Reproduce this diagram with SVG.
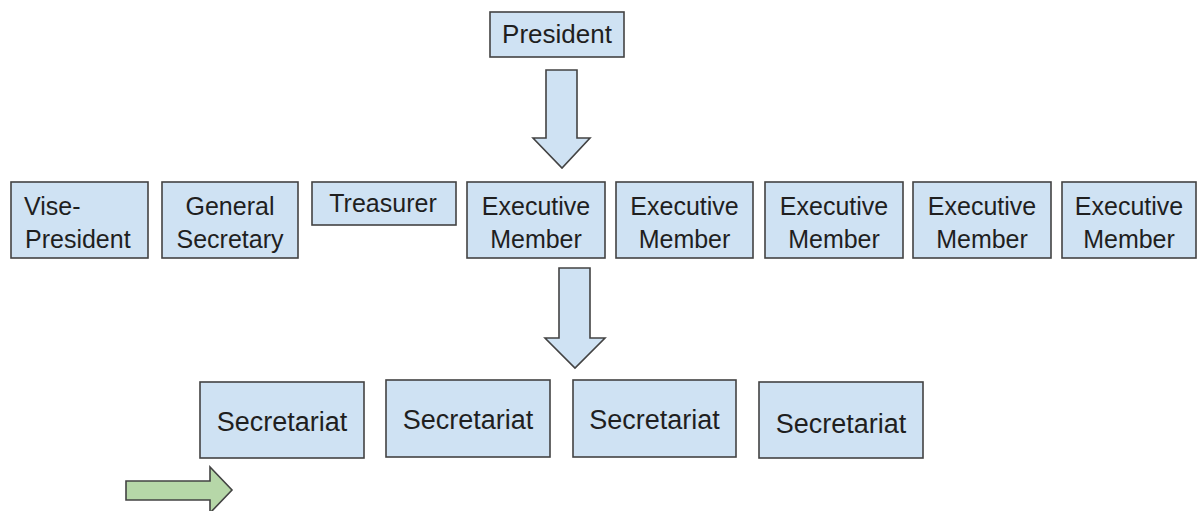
<svg xmlns="http://www.w3.org/2000/svg" width="1198" height="511" viewBox="0 0 1198 511">
  <style>
    .box { fill: #cfe2f3; stroke: #434343; stroke-width: 1.6; }
    .arrow { fill: #cfe2f3; stroke: #434343; stroke-width: 1.6; stroke-linejoin: miter; }
    .go { fill: #b6d7a8; stroke: #434343; stroke-width: 1.6; }
    text { font-family: "Liberation Sans", Arial, sans-serif; fill: #1f1f1f; }
    .c { text-anchor: middle; }
    .f25 { font-size: 25px; }
    .f26 { font-size: 26px; }
    .f27 { font-size: 27px; }
  </style>
  <rect width="1198" height="511" fill="#ffffff"/>

  <!-- connectors -->
  <g id="connectors">
    <polygon class="arrow" points="546,70 577,70 577,138 590,138 562,168 533,138 546,138"/>
    <polygon class="arrow" points="559,268 590,268 590,338 605,338 575,368 545,338 559,338"/>
    <polygon class="go" points="126,481 210,481 210,467 232,490 210,513 210,500 126,500"/>
  </g>

  <g id="president">
    <rect class="box" x="490" y="12" width="134" height="45"/>
    <text class="c f26" x="557" y="43">President</text>
  </g>

  <g id="vice-president">
    <rect class="box" x="11" y="182" width="137" height="76"/>
    <text class="f25" x="24" y="215">Vise-</text>
    <text class="f25" x="25" y="248">President</text>
  </g>

  <g id="general-secretary">
    <rect class="box" x="162" y="182" width="136" height="76"/>
    <text class="c f25" x="230" y="215">General</text>
    <text class="c f25" x="230" y="248">Secretary</text>
  </g>

  <g id="treasurer">
    <rect class="box" x="312" y="182" width="144" height="43"/>
    <text class="c f25" x="383" y="212">Treasurer</text>
  </g>

  <g id="executive-1">
    <rect class="box" x="467" y="182" width="138" height="76"/>
    <text class="c f25" x="536" y="215">Executive</text>
    <text class="c f25" x="536" y="248">Member</text>
  </g>

  <g id="executive-2">
    <rect class="box" x="616" y="182" width="137" height="76"/>
    <text class="c f25" x="684.5" y="215">Executive</text>
    <text class="c f25" x="684.5" y="248">Member</text>
  </g>

  <g id="executive-3">
    <rect class="box" x="765" y="182" width="138" height="76"/>
    <text class="c f25" x="834" y="215">Executive</text>
    <text class="c f25" x="834" y="248">Member</text>
  </g>

  <g id="executive-4">
    <rect class="box" x="913" y="182" width="138" height="76"/>
    <text class="c f25" x="982" y="215">Executive</text>
    <text class="c f25" x="982" y="248">Member</text>
  </g>

  <g id="executive-5">
    <rect class="box" x="1062" y="182" width="134" height="76"/>
    <text class="c f25" x="1129" y="215">Executive</text>
    <text class="c f25" x="1129" y="248">Member</text>
  </g>

  <g id="secretariat-1">
    <rect class="box" x="200" y="382" width="164" height="76"/>
    <text class="c f27" x="282" y="431">Secretariat</text>
  </g>

  <g id="secretariat-2">
    <rect class="box" x="386" y="380" width="164" height="77"/>
    <text class="c f27" x="468" y="429">Secretariat</text>
  </g>

  <g id="secretariat-3">
    <rect class="box" x="573" y="380" width="163" height="77"/>
    <text class="c f27" x="654.5" y="429">Secretariat</text>
  </g>

  <g id="secretariat-4">
    <rect class="box" x="759" y="382" width="164" height="76"/>
    <text class="c f27" x="841" y="433">Secretariat</text>
  </g>
</svg>
